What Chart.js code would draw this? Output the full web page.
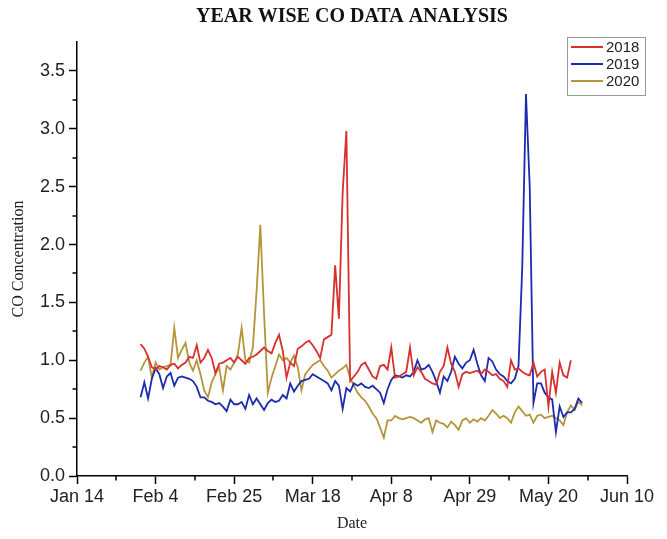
<!DOCTYPE html>
<html>
<head>
<meta charset="utf-8">
<title>YEAR WISE CO DATA ANALYSIS</title>
<script src="https://cdn.jsdelivr.net/npm/chart.js@4/dist/chart.umd.min.js"></script>
<style>
  html, body { margin: 0; padding: 0; background: #ffffff; }
  #wrap { width: 667px; height: 539px; }
</style>
</head>
<body>
<div id="wrap"><canvas id="c" width="667" height="539"></canvas></div>
<script>
// Day 0 = Jan 14; series start on day 17 (Jan 31), one value per day
const startDay = 17;
const xTickLabels = ['Jan 14', 'Feb 4', 'Feb 25', 'Mar 18', 'Apr 8', 'Apr 29', 'May 20', 'Jun 10'];
const seriesNames = ['2018', '2019', '2020'];

const co2018 = [
  1.14, 1.10, 1.03, 0.94, 0.92, 0.95, 0.94, 0.92, 0.96, 0.97,
  0.93, 0.96, 0.98, 1.03, 1.02, 1.13, 0.98, 1.02, 1.09, 1.02,
  0.89, 0.97, 0.98, 1.00, 1.02, 0.98, 1.03, 1.00, 0.97, 1.02,
  1.03, 1.05, 1.08, 1.11, 1.08, 1.06, 1.15, 1.22, 1.08, 0.85,
  0.98, 0.95, 1.10, 1.12, 1.15, 1.17, 1.13, 1.08, 1.02, 1.18,
  1.20, 1.22, 1.82, 1.36, 2.45, 2.98, 0.82, 0.86, 0.90, 0.96,
  0.98, 0.92, 0.86, 0.84, 0.95, 0.96, 0.92, 1.11, 0.85, 0.86,
  0.88, 0.90, 1.11, 0.87, 0.94, 0.90, 0.84, 0.82, 0.80, 0.79,
  0.90, 0.95, 1.11, 0.97, 0.90, 0.77, 0.88, 0.90, 0.89, 0.90,
  0.91, 0.88, 0.92, 0.90, 0.87, 0.88, 0.84, 0.82, 0.77, 1.00,
  0.92, 0.93, 0.90, 0.88, 0.87, 0.98, 0.86, 0.90, 0.92, 0.60,
  0.90, 0.72, 0.98, 0.87, 0.85, 1.00
];

const co2019 = [
  0.68, 0.81, 0.67, 0.84, 0.93, 0.88, 0.76, 0.86, 0.89, 0.78,
  0.85, 0.86, 0.85, 0.84, 0.82, 0.77, 0.68, 0.68, 0.65, 0.64,
  0.62, 0.63, 0.60, 0.56, 0.66, 0.62, 0.62, 0.64, 0.58, 0.70,
  0.62, 0.67, 0.62, 0.57, 0.63, 0.66, 0.64, 0.65, 0.70, 0.67,
  0.80, 0.73, 0.78, 0.82, 0.83, 0.84, 0.88, 0.86, 0.84, 0.82,
  0.80, 0.74, 0.82, 0.78, 0.58, 0.76, 0.73, 0.80, 0.78, 0.80,
  0.77, 0.76, 0.78, 0.75, 0.72, 0.63, 0.75, 0.83, 0.87, 0.86,
  0.85, 0.87, 0.86, 0.90, 1.00, 0.92, 0.93, 0.96, 0.90, 0.82,
  0.72, 0.86, 0.82, 0.90, 1.03, 0.97, 0.93, 0.98, 1.00, 1.09,
  0.97, 0.87, 0.82, 1.02, 0.99, 0.92, 0.88, 0.86, 0.82, 0.80,
  0.84, 0.95, 1.80, 3.30, 2.50, 0.63, 0.80, 0.80, 0.72, 0.68,
  0.66, 0.38, 0.60, 0.51, 0.55, 0.55, 0.58, 0.67, 0.63
];

const co2020 = [
  0.91, 0.98, 1.03, 0.85, 0.98, 0.92, 0.94, 0.95, 0.96, 1.28,
  1.02, 1.09, 1.15, 0.98, 0.91, 1.00, 0.88, 0.74, 0.68, 0.81,
  0.88, 0.94, 0.74, 0.95, 0.92, 0.98, 1.05, 1.28, 1.00, 0.98,
  1.11, 1.60, 2.17, 1.40, 0.72, 0.85, 0.95, 1.05, 1.00, 1.02,
  0.98, 1.04, 0.94, 0.74, 0.88, 0.92, 0.96, 0.98, 1.00, 0.95,
  0.91, 0.85, 0.88, 0.91, 0.93, 0.96, 0.85, 0.78, 0.72, 0.68,
  0.65, 0.60, 0.54, 0.50, 0.42, 0.33, 0.48, 0.48, 0.52, 0.50,
  0.49, 0.50, 0.51, 0.50, 0.48, 0.46, 0.49, 0.50, 0.38, 0.48,
  0.46, 0.45, 0.42, 0.47, 0.44, 0.40, 0.48, 0.50, 0.46, 0.49,
  0.47, 0.50, 0.48, 0.52, 0.57, 0.54, 0.50, 0.52, 0.50, 0.46,
  0.55, 0.60, 0.56, 0.52, 0.53, 0.46, 0.52, 0.53, 0.50, 0.51,
  0.52, 0.50, 0.48, 0.44, 0.55, 0.61, 0.57, 0.64, 0.61
];

const colors = ['#d7302e', '#1c2bad', '#b5953a'];
const sansFont = "'Liberation Sans', Arial, sans-serif";
const serifFont = "'Liberation Serif', 'Times New Roman', serif";

function toPoints(arr) {
  return arr.map((v, i) => ({ x: startDay + i, y: v }));
}

// minor ticks (between labelled ticks) and legend box
const extras = {
  id: 'extras',
  afterDraw(chart) {
    const ctx = chart.ctx;
    const xs = chart.scales.x, ys = chart.scales.y;
    ctx.save();
    ctx.strokeStyle = '#000';
    ctx.lineWidth = 1.5;
    ctx.beginPath();
    for (let v = 0.25; v < 3.75; v += 0.5) {
      const py = Math.round(ys.getPixelForValue(v));
      ctx.moveTo(xs.left, py); ctx.lineTo(xs.left - 4.5, py);
    }
    for (let v = 10.5; v < 147; v += 21) {
      const px = Math.round(xs.getPixelForValue(v));
      ctx.moveTo(px, ys.bottom); ctx.lineTo(px, ys.bottom + 4.5);
    }
    ctx.stroke();

    // legend
    const bx = 567, by = 37, bw = 78, bh = 58;
    ctx.strokeStyle = '#9a9a9a';
    ctx.lineWidth = 1;
    ctx.strokeRect(bx + 0.5, by + 0.5, bw, bh);
    ctx.font = '15px ' + sansFont;
    ctx.textBaseline = 'middle';
    ctx.textAlign = 'left';
    chart.data.datasets.forEach((ds, i) => {
      const ly = by + 10 + i * 17;
      ctx.strokeStyle = ds.borderColor;
      ctx.lineWidth = 2;
      ctx.beginPath();
      ctx.moveTo(bx + 4, ly); ctx.lineTo(bx + 36, ly);
      ctx.stroke();
      ctx.fillStyle = '#222';
      ctx.fillText(ds.label, bx + 39, ly + 1);
    });
    ctx.restore();
  }
};

new Chart(document.getElementById('c'), {
  type: 'line',
  data: {
    datasets: [
      { label: seriesNames[0], data: toPoints(co2018), borderColor: colors[0], backgroundColor: colors[0] },
      { label: seriesNames[1], data: toPoints(co2019), borderColor: colors[1], backgroundColor: colors[1] },
      { label: seriesNames[2], data: toPoints(co2020), borderColor: colors[2], backgroundColor: colors[2] }
    ]
  },
  options: {
    responsive: false,
    animation: false,
    layout: { padding: { left: 0, right: 40, top: 0, bottom: 0 } },
    elements: {
      line: { borderWidth: 1.8, tension: 0 },
      point: { radius: 0, hoverRadius: 0 }
    },
    plugins: {
      legend: { display: false },
      tooltip: { enabled: false },
      title: {
        display: true,
        fullSize: false,
        text: 'YEAR WISE CO DATA ANALYSIS',
        color: '#111',
        font: { family: serifFont, size: 20, weight: 'bold', lineHeight: 1.2 },
        padding: { top: 5, bottom: 13 }
      }
    },
    scales: {
      x: {
        type: 'linear',
        min: 0,
        max: 147,
        afterFit(s) { s.height = 63; },
        ticks: {
          stepSize: 21,
          autoSkip: false,
          maxRotation: 0,
          padding: 2,
          color: '#222',
          font: { family: sansFont, size: 18 },
          callback: (v, i) => xTickLabels[i]
        },
        grid: { display: true, drawOnChartArea: false, drawTicks: true, tickLength: 8, tickColor: '#000', tickWidth: 1.5 },
        border: { display: true, color: '#000', width: 1.5 },
        title: {
          display: true,
          text: 'Date',
          color: '#222',
          font: { family: serifFont, size: 16, lineHeight: 1.2 },
          padding: { top: 0, bottom: 6 }
        }
      },
      y: {
        min: 0,
        max: 3.75,
        afterFit(s) { s.width = 77; },
        afterBuildTicks(s) { s.ticks = s.ticks.filter(t => t.value <= 3.5 + 1e-9); },
        ticks: {
          stepSize: 0.5,
          padding: 4,
          color: '#222',
          font: { family: sansFont, size: 18 },
          callback: v => Number(v).toFixed(1)
        },
        grid: { display: true, drawOnChartArea: false, drawTicks: true, tickLength: 8, tickColor: '#000', tickWidth: 1.5 },
        border: { display: true, color: '#000', width: 1.5 },
        title: {
          display: true,
          text: 'CO Concentration',
          color: '#222',
          font: { family: serifFont, size: 16, lineHeight: 1.2 },
          padding: { top: 9, bottom: 0 }
        }
      }
    }
  },
  plugins: [extras]
});
</script>
</body>
</html>
